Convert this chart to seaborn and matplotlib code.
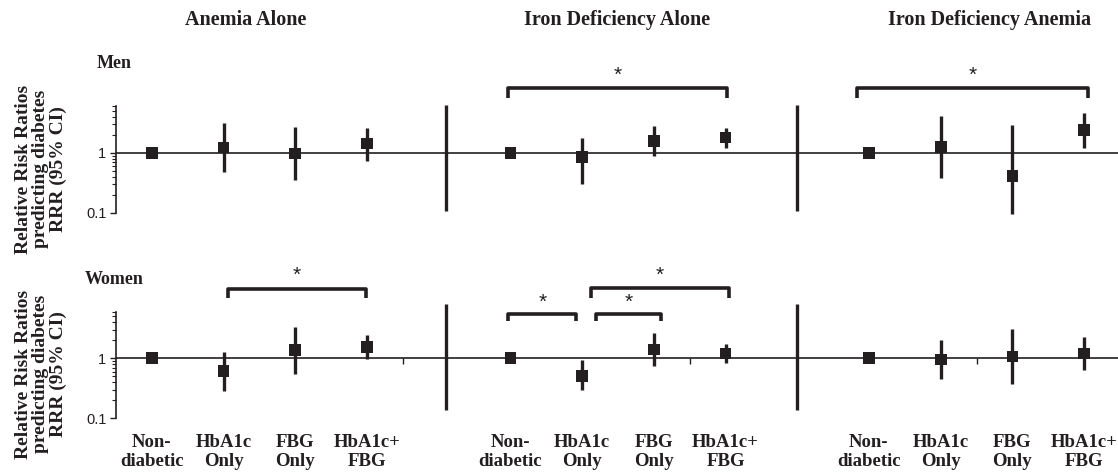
"""
Riesgo relativo de diabetes por categoría glucémica (HbA1c / FBG),
separado por sexo y por estado de hierro / anemia.
"""
import matplotlib
matplotlib.use("Agg")
import numpy as np
import pandas as pd
import matplotlib.pyplot as plt
import seaborn as sns

# ---------------- datos ----------------
GROUPS = ["Anemia Alone", "Iron Deficiency Alone", "Iron Deficiency Anemia"]
CATEGORIES = ["Non-\ndiabetic", "HbA1c\nOnly", "FBG\nOnly", "HbA1c+\nFBG"]

# RRR (IC 95 %), orden: grupo x categoría
MEN_RRR = [1.00, 1.24, 0.98, 1.43, 1.00, 0.85, 1.60, 1.80, 1.00, 1.26, 0.41, 2.39]
MEN_LO = [1.00, 0.48, 0.35, 0.74, 1.00, 0.30, 0.88, 1.21, 1.00, 0.38, 0.098, 1.21]
MEN_HI = [1.00, 3.16, 2.70, 2.60, 1.00, 1.75, 2.78, 2.60, 1.00, 4.10, 2.90, 4.60]

WOMEN_RRR = [1.00, 0.62, 1.38, 1.56, 1.00, 0.51, 1.41, 1.20, 1.00, 0.96, 1.07, 1.21]
WOMEN_LO = [1.00, 0.29, 0.55, 0.96, 1.00, 0.30, 0.74, 0.83, 1.00, 0.45, 0.37, 0.64]
WOMEN_HI = [1.00, 1.29, 3.37, 2.45, 1.00, 0.94, 2.61, 1.73, 1.00, 2.02, 3.04, 2.30]

# corchetes de significación (panel, x inicio, x fin, bajo, alto, asterisco)
SIG_PANEL = ["Men", "Men", "Women", "Women", "Women", "Women"]
SIG_X0 = [5.46, 10.33, 1.56, 5.47, 6.69, 6.62]
SIG_X1 = [8.52, 13.55, 3.49, 6.42, 7.60, 8.55]
SIG_LOW = [8.3, 8.3, 10.0, 4.2, 4.2, 10.0]
SIG_HIGH = [12.1, 12.1, 14.4, 5.4, 5.4, 14.6]
SIG_STAR = [20.0, 20.0, 24.3, 8.7, 8.7, 24.3]

# separadores verticales entre grupos
SEP_X = [4.6, 9.5]
SEP_SPAN = {"Men": (0.11, 6.4), "Women": (0.14, 7.9)}
CAT_TICKS = [4, 8, 12]

INK = "#231f20"
SERIF = "Liberation Serif"
SANS = "Liberation Sans"

sns.set_theme(style="white")
plt.rcParams["font.family"] = [SANS, "DejaVu Sans"]

W, H = 1118, 474


def px(x, y):
    return x / W, 1 - y / H


def make_df(rrr, lo, hi):
    rows = []
    for g, grp in enumerate(GROUPS):
        for c, cat in enumerate(CATEGORIES):
            i = g * len(CATEGORIES) + c
            rows.append({"group": grp, "cat": cat,
                         "xpos": g * (len(CATEGORIES) + 1) + c + 0.5,
                         "rrr": rrr[i], "lo": lo[i], "hi": hi[i]})
    return pd.DataFrame(rows)


panels = {"Men": make_df(MEN_RRR, MEN_LO, MEN_HI),
          "Women": make_df(WOMEN_RRR, WOMEN_LO, WOMEN_HI)}

fig = plt.figure(figsize=(W / 100, H / 100), dpi=100)

YLIM = (0.08, 40)
dec_px = 60.0
ax_h = dec_px * (np.log10(YLIM[1]) - np.log10(YLIM[0]))
one_px = {"Men": 153.0, "Women": 358.3}

axes = {}
for name in ["Men", "Women"]:
    bottom_px = one_px[name] + dec_px * (0 - np.log10(YLIM[0]))
    ax = fig.add_axes([116 / W, (H - bottom_px) / H, 1004 / W, ax_h / H])
    axes[name] = ax
    df = panels[name]

    ax.set_yscale("log")
    ax.set_ylim(*YLIM)
    ax.set_xlim(0, 14)

    ax.axhline(1, color=INK, lw=1.2, zorder=1)
    ci = df[df["lo"] < df["hi"]]
    ax.vlines(ci["xpos"], ci["lo"], ci["hi"], color=INK, lw=2.4, zorder=2)
    sns.scatterplot(data=df, x="xpos", y="rrr", marker="s", s=70, color=INK,
                    edgecolor="none", linewidth=0, ax=ax, zorder=3, legend=False)

    lo_s, hi_s = SEP_SPAN[name]
    ax.vlines(SEP_X, lo_s, hi_s, color=INK, lw=2.4)

    if name == "Women":
        ax.vlines(CAT_TICKS, 0.8, 1.0, color=INK, lw=1.0)

    for p, x0, x1, lo, hi, st in zip(SIG_PANEL, SIG_X0, SIG_X1, SIG_LOW,
                                     SIG_HIGH, SIG_STAR):
        if p != name:
            continue
        ax.plot([x0, x0, x1, x1], [lo, hi, hi, lo], color=INK, lw=2.6,
                solid_joinstyle="round", solid_capstyle="butt", clip_on=False)
        ax.text((x0 + x1) / 2, st, "*", ha="center", va="center",
                fontsize=15, family=SANS, color=INK)

    for s in ["top", "right", "bottom"]:
        ax.spines[s].set_visible(False)
    ax.spines["left"].set_bounds(0.1, 6)
    ax.spines["left"].set_color(INK)
    ax.spines["left"].set_linewidth(1.2)
    ax.set_yticks([0.1, 1])
    ax.set_yticklabels(["0.1", "1"], fontsize=10.5, family=SANS, color=INK)
    ax.set_yticks([0.2, 0.3, 0.4, 0.5, 0.6, 0.7, 0.8, 0.9, 2, 3, 4, 5, 6],
                  minor=True)
    ax.yaxis.set_minor_formatter(plt.NullFormatter())
    ax.tick_params(axis="y", which="major", direction="out", length=4,
                   width=1.0, color=INK, left=True, pad=3)
    ax.tick_params(axis="y", which="minor", direction="out", length=3,
                   width=0.8, color=INK, left=True)
    ax.set_xlabel("")
    ax.set_ylabel("")

    if name == "Women":
        ax.set_xticks(df["xpos"])
        ax.set_xticklabels(df["cat"], fontsize=13.5, family=SERIF,
                           fontweight="bold", color=INK, linespacing=1.2)
        ax.tick_params(axis="x", length=0, pad=7, bottom=True)
    else:
        ax.set_xticks([])

    ax.grid(False)

# títulos de grupo
for grp, cx in zip(GROUPS, [246, 617, 990]):
    fig.text(*px(cx, 20), grp, ha="center", va="center", fontsize=14.5,
             family=SERIF, fontweight="bold", color=INK)

for name, cy in [("Men", 63), ("Women", 280)]:
    fig.text(*px(114, cy), name, ha="center", va="center", fontsize=13,
             family=SERIF, fontweight="bold", color=INK)

for cy in [169, 374]:
    fig.text(*px(41, cy), "Relative Risk Ratios\npredicting diabetes\nRRR (95% CI)",
             ha="center", va="center", rotation=90, fontsize=14,
             family=SERIF, fontweight="bold", color=INK, linespacing=1.05)

fig.savefig("out.png", dpi=100)
